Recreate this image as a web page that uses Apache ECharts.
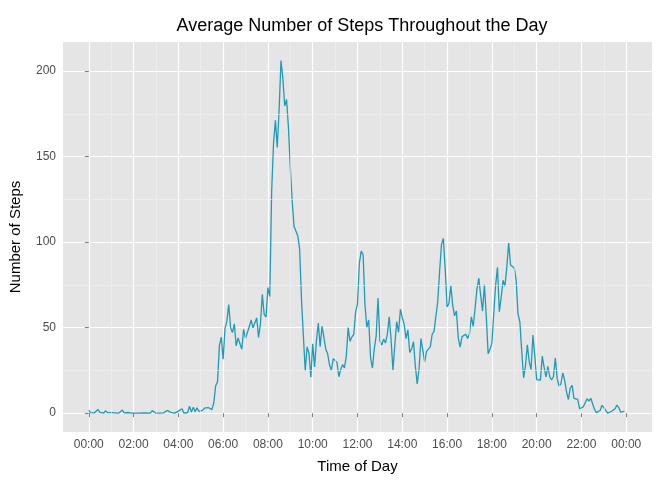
<!DOCTYPE html>
<html><head><meta charset="utf-8">
<script src="https://cdn.jsdelivr.net/npm/echarts@6/dist/echarts.min.js"></script>
<style>html,body{margin:0;padding:0;background:#fff}#c{width:672px;height:480px}</style>
</head><body><div id="c"></div>
<script>
const steps = [1.7,0.3,0.1,0.2,0.1,2.1,0.5,0.9,0,1.5,0.3,0.1,0.3,0.7,0.2,0.3,0,1.1,1.8,0.2,0.2,0.4,0.3,0,0,0,1.1,0,0,0.1,0,0.2,0,0,1.5,0.9,0,0,0,0,0.2,0.6,1.6,0.6,0.5,0.1,0,0,1.2,0.9,2.6,0,0.3,0.4,4.1,0.7,3.5,0.8,3.1,1.1,0,1.6,3.0,2.2,3.3,3.0,2.1,6.1,16.0,18.3,39.5,44.5,31.5,49.3,53.8,63.5,50.0,47.1,52.2,39.3,44.0,44.2,37.4,49.0,43.8,44.4,50.5,54.5,49.9,51.0,55.7,44.3,52.3,69.5,57.8,56.2,73.4,68.2,129.4,157.5,171.2,155.4,177.3,206.2,195.9,179.6,183.4,167.0,143.5,124.0,109.1,108.1,103.7,96.0,66.2,45.2,24.8,38.8,35.0,21.1,40.6,27.0,42.4,52.7,38.9,50.8,44.3,37.4,34.7,28.3,25.1,31.9,31.4,29.7,21.3,25.5,28.4,26.5,33.4,50.0,42.0,44.6,46.0,59.2,63.9,87.7,94.8,92.8,63.4,50.2,54.5,32.4,26.5,37.7,45.1,67.3,42.3,39.9,43.3,41.0,46.2,56.4,42.8,25.1,40.0,53.5,47.3,60.8,55.8,52.0,43.6,48.7,35.5,37.5,41.8,27.5,17.1,26.1,43.6,43.8,30.0,36.1,35.5,38.8,46.0,47.8,48.1,65.3,82.9,98.7,102.1,84.0,62.1,64.1,74.5,63.2,56.9,59.8,43.9,38.6,44.7,45.5,46.2,43.7,46.6,56.3,50.7,61.2,72.7,78.9,68.9,59.7,75.1,56.5,34.8,37.5,40.7,58.0,74.7,85.3,59.3,67.8,77.7,74.2,85.3,99.5,86.6,85.6,84.9,77.8,58.0,53.4,36.3,20.7,27.4,40.0,30.2,25.5,45.7,33.5,19.6,19.0,19.3,33.3,26.8,21.2,27.3,21.3,19.5,21.3,32.3,20.2,15.9,17.2,23.5,19.2,12.5,8.0,14.7,16.3,8.7,7.8,8.1,2.6,1.5,3.7,4.8,8.5,7.1,8.7,9.8,2.2,0.3,0.1,1.6,4.6,3.3,2.8,0,0.8,1.0,1.6,2.6,4.7,3.3,0.6,0.2,1.1];
const xTicks = [0,120,240,360,480,600,720,840,960,1080,1200,1320,1440];
const xMinor = [60,180,300,420,540,660,780,900,1020,1140,1260,1380];
const yTicks = [0,50,100,150,200];
const yMinor = [25,75,125,175];
const minutes = steps.map((_, i) => i * 5);
const fmt = v => String(Math.floor(v / 60) % 24).padStart(2, '0') + ':00';
const chart = echarts.init(document.getElementById('c'));
const minorLines = xMinor.map(v => ({xAxis: v})).concat(yMinor.map(v => ({yAxis: v})));
chart.setOption({
  animation: false,
  title: {text: 'Average Number of Steps Throughout the Day', left: 357, top: 12, textAlign: 'center',
    textStyle: {fontFamily: 'Liberation Sans', fontSize: 18, fontWeight: 'normal', color: '#000'}},
  grid: {left: 62, right: 20, top: 42, bottom: 48, backgroundColor: '#E5E5E5', show: true, borderWidth: 0},
  xAxis: {type: 'value', min: -69, max: 1509,
    name: 'Time of Day', nameLocation: 'middle', nameGap: 27,
    nameTextStyle: {fontFamily: 'Liberation Sans', fontSize: 15, color: '#000'},
    axisLine: {show: false},
    axisTick: {show: true, customValues: xTicks, length: 4, lineStyle: {color: '#7f7f7f'}},
    axisLabel: {customValues: xTicks, formatter: fmt, color: '#4d4d4d', fontFamily: 'Liberation Sans', fontSize: 12, margin: 7},
    splitLine: {show: true, lineStyle: {color: '#fff', width: 1.2}}},
  yAxis: {type: 'value', min: -11, max: 217,
    name: 'Number of Steps', nameLocation: 'middle', nameGap: 40,
    nameTextStyle: {fontFamily: 'Liberation Sans', fontSize: 15, color: '#000'},
    axisLine: {show: false},
    axisTick: {show: true, customValues: yTicks, length: 4, lineStyle: {color: '#7f7f7f'}},
    axisLabel: {customValues: yTicks, color: '#4d4d4d', fontFamily: 'Liberation Sans', fontSize: 12, margin: 7},
    splitLine: {show: true, lineStyle: {color: '#fff', width: 1.2}}},
  series: [{type: 'line', data: minutes.map((m, i) => [m, steps[i]]), showSymbol: false,
    lineStyle: {color: '#1F9BB5', width: 1.3},
    markLine: {silent: true, symbol: 'none', label: {show: false},
      lineStyle: {color: '#F2F2F2', width: 0.6, type: 'solid'}, data: minorLines}}]
});
</script></body></html>
